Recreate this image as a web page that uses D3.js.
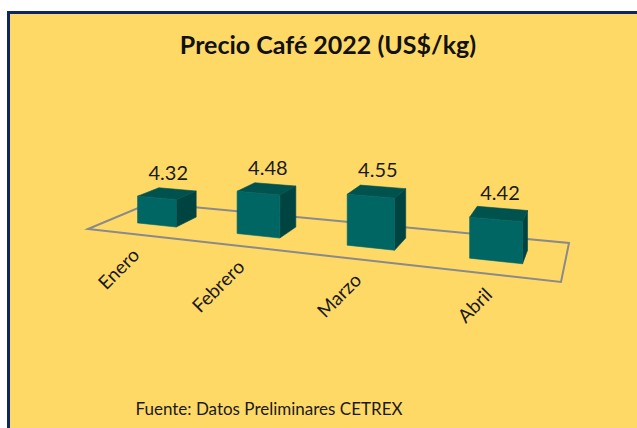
<!DOCTYPE html>
<html>
<head>
<meta charset="utf-8">
<script src="https://cdn.jsdelivr.net/npm/d3@7"></script>
<style>
  html, body { margin: 0; padding: 0; background: #ffffff; }
  svg { display: block; }
</style>
</head>
<body>
<div id="chart"></div>
<script>
// ---- data ----
const categories = ["Enero", "Febrero", "Marzo", "Abril"];
const values = [4.32, 4.48, 4.55, 4.42];
const title = "Precio Café 2022 (US$/kg)";
const source = "Fuente: Datos Preliminares CETREX";

// ---- layout ----
const W = 637, H = 428;
const svg = d3.select("#chart").append("svg").attr("width", W).attr("height", H);

svg.append("rect")
  .attr("x", 8.5).attr("y", 12.5)
  .attr("width", W + 20).attr("height", H + 20)
  .attr("fill", "#FFD966")
  .attr("stroke", "#0D2560").attr("stroke-width", 3);

// Perspective floor: homography from unit square (u along categories, w depth) to screen quad
const quad = [[88, 229], [561, 282], [569, 243], [150, 203]]; // front-left, front-right, back-right, back-left
function makeHomography(p) {
  const [x0, y0] = p[0], [x1, y1] = p[1], [x2, y2] = p[2], [x3, y3] = p[3];
  const dx1 = x1 - x2, dx2 = x3 - x2, dx3 = x0 - x1 + x2 - x3;
  const dy1 = y1 - y2, dy2 = y3 - y2, dy3 = y0 - y1 + y2 - y3;
  const den = dx1 * dy2 - dx2 * dy1;
  const g = (dx3 * dy2 - dx2 * dy3) / den;
  const h = (dx1 * dy3 - dx3 * dy1) / den;
  const a = x1 - x0 + g * x1, b = x3 - x0 + h * x3, c = x0;
  const d = y1 - y0 + g * y1, e = y3 - y0 + h * y3, f = y0;
  return function (u, w, z) {
    const D = g * u + h * w + 1;
    return [(a * u + b * w + c) / D, (d * u + e * w + f - (z || 0)) / D];
  };
}
const proj = makeHomography(quad);

// scales
const xBand = d3.scaleBand().domain(categories).range([0, 1]).paddingInner(0.6).paddingOuter(0.3);
const hScale = d3.scaleLinear().domain([4, 5]).range([0, 86]);
const wFront = 0.32, wBack = 0.68;

// floor
const floorPts = [[0, 0], [1, 0], [1, 1], [0, 1]].map(([u, w]) => proj(u, w, 0));
svg.append("path")
  .attr("d", d3.line()(floorPts) + "Z")
  .attr("fill", "none")
  .attr("stroke", "#8A8A8A")
  .attr("stroke-width", 2)
  .attr("stroke-linejoin", "miter");

// bars
const line = d3.line();
const bars = svg.append("g");
categories.forEach((cat, i) => {
  const u0 = xBand(cat), u1 = u0 + xBand.bandwidth();
  const z = hScale(values[i]);
  const g = bars.append("g");
  const side = [[u1, wFront, 0], [u1, wBack, 0], [u1, wBack, z], [u1, wFront, z]];
  const top = [[u0, wFront, z], [u1, wFront, z], [u1, wBack, z], [u0, wBack, z]];
  const front = [[u0, wFront, 0], [u1, wFront, 0], [u1, wFront, z], [u0, wFront, z]];
  [[side, "#004442"], [top, "#00524F"], [front, "#006664"]].forEach(([face, col]) => {
    g.append("path")
      .attr("d", line(face.map(p => proj(p[0], p[1], p[2]))) + "Z")
      .attr("fill", col)
      .attr("stroke", col)
      .attr("stroke-width", 0.6)
      .attr("stroke-linejoin", "round");
  });
  // value label
  const lc = proj((u0 + u1) / 2, 0.5, z);
  svg.append("text")
    .attr("x", lc[0] + 1).attr("y", lc[1] - 14)
    .attr("text-anchor", "middle")
    .attr("font-family", "Lato, 'Noto Sans', sans-serif")
    .attr("font-size", 20)
    .attr("fill", "#1a1a1a")
    .text(d3.format(".2f")(values[i]));
  // category label
  const cp = proj((u0 + u1) / 2, 0, 0);
  svg.append("text")
    .attr("transform", `translate(${cp[0] + 4},${cp[1] + 22}) rotate(-45)`)
    .attr("text-anchor", "end")
    .attr("font-family", "Lato, 'Noto Sans', sans-serif")
    .attr("font-size", 19)
    .attr("fill", "#1a1a1a")
    .text(cat);
});

// title
svg.append("text")
  .attr("x", 328).attr("y", 54)
  .attr("text-anchor", "middle")
  .attr("font-family", "Lato, 'Noto Sans', sans-serif")
  .attr("font-weight", "bold")
  .attr("font-size", 25)
  .attr("fill", "#111111")
  .text(title);

// source
svg.append("text")
  .attr("x", 269).attr("y", 415)
  .attr("text-anchor", "middle")
  .attr("font-family", "Lato, 'Noto Sans', sans-serif")
  .attr("font-size", 17)
  .attr("fill", "#1a1a1a")
  .text(source);
</script>
</body>
</html>
